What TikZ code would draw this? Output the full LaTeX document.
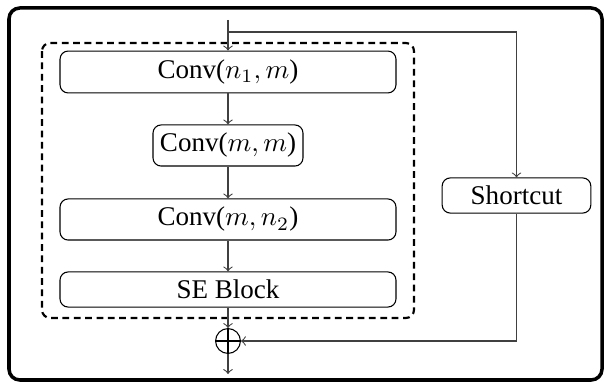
\documentclass[tikz,border=0pt]{standalone}
\usepackage{fontspec}
\setmainfont{Liberation Serif}
\begin{document}
\begin{tikzpicture}[x=0.37pt, y=-0.37pt,
    block/.style={draw, rounded corners=3pt, inner sep=2pt},
    flow/.style={->, color=black!75}]
    \useasboundingbox (0,0) rectangle (611,387);
    \draw[line width=1.3pt, rounded corners=4pt] (9,8) rectangle (602,380);
    \draw[thick, dash pattern=on 2.5pt off 1.7pt, rounded corners=3pt] (42,43) rectangle (414,318);
    \node[block, minimum width=124.3pt, minimum height=15.5pt] (conva) at (228,72) {Conv($n_1, m$)};
    \node[block, minimum width=55.5pt, minimum height=15.2pt] (convb) at (228,145.5) {Conv($m, m$)};
    \node[block, minimum width=124.3pt, minimum height=15.2pt] (convc) at (228,219.5) {Conv($m, n_2$)};
    \node[block, minimum width=124.3pt, minimum height=13pt] (se) at (228,289.5) {SE Block};
    \node[block, minimum width=55pt, minimum height=13pt] (short) at (516.5,195.5) {Shortcut};
    \node[draw, circle, inner sep=0pt, minimum size=9.2pt] (sum) at (228,341) {};
    \draw (sum.north) -- (sum.south) (sum.west) -- (sum.east);
    \coordinate (in) at (228,20);
    \coordinate (split) at (228,32);
    \coordinate (out) at (228,374);
    \draw[flow] (in) -- (conva);
    \draw[flow] (split) -| (short);
    \draw[flow] (conva) -- (convb);
    \draw[flow] (convb) -- (convc);
    \draw[flow] (convc) -- (se);
    \draw[flow] (se) -- (sum);
    \draw[flow] (short) |- (sum);
    \draw[flow] (sum) -- (out);
\end{tikzpicture}
\end{document}
